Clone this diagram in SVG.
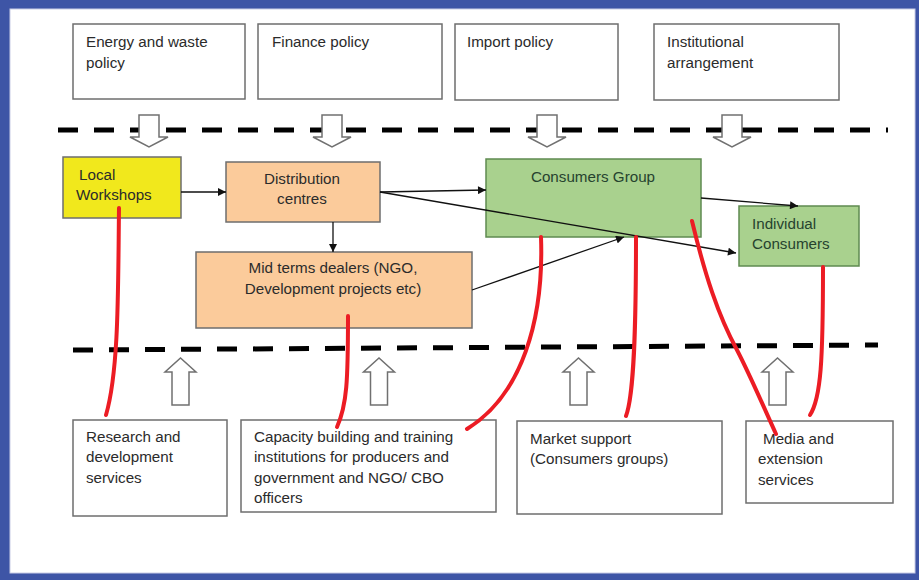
<svg xmlns="http://www.w3.org/2000/svg" width="919" height="580" viewBox="0 0 919 580">
<defs>
<style>
.box{fill:#fff;stroke:#6e6e6e;stroke-width:1.5}
.t{font-family:"Liberation Sans",Arial,sans-serif;font-size:15.2px;fill:#2b2b2b}
.tc{text-anchor:middle}
.g{fill:#26432e}
.dash{stroke:#000;stroke-width:5;stroke-dasharray:20 16;fill:none}
.hol{fill:#fff;stroke:#707070;stroke-width:1.5}
.con{stroke:#111;stroke-width:1.3;fill:none;marker-end:url(#ah)}
.red{stroke:#ec1c24;stroke-width:4;fill:none;stroke-linecap:round}
</style>
<marker id="ah" viewBox="0 0 10 10" refX="10" refY="5" markerWidth="10" markerHeight="8" markerUnits="userSpaceOnUse" orient="auto">
<path d="M0,0 L10,5 L0,10 Z" fill="#111"/>
</marker>
<path id="down" d="M-10,0 H10 V22 H19 L0,32 L-19,22 H-10 Z"/>
<path id="up" d="M-8.5,47 H8.5 V14 H15.5 L0,0 L-15.5,14 H-8.5 Z"/>
</defs>
<rect x="0" y="0" width="919" height="580" fill="#3e55a6"/>
<rect x="10" y="9" width="905" height="564" fill="#fff" stroke="#c9cde6" stroke-width="1"/>

<g id="policy-energy"><rect class="box" x="73" y="24" width="172" height="75"/><text class="t" x="86" y="47">Energy and waste</text><text class="t" x="86" y="68">policy</text></g>
<g id="policy-finance"><rect class="box" x="258" y="24" width="184" height="75"/><text class="t" x="272" y="47">Finance policy</text></g>
<g id="policy-import"><rect class="box" x="455" y="24" width="163" height="76"/><text class="t" x="467" y="47">Import policy</text></g>
<g id="policy-institutional"><rect class="box" x="654" y="24" width="185" height="76"/><text class="t" x="667" y="47">Institutional</text><text class="t" x="667" y="68">arrangement</text></g>

<g id="dividers">
<line class="dash" x1="58" y1="130" x2="888" y2="130"/>
<line class="dash" x1="73" y1="350" x2="878" y2="345"/>
</g>

<g id="policy-arrows">
<use href="#down" class="hol" x="149" y="115"/>
<use href="#down" class="hol" x="332" y="115"/>
<use href="#down" class="hol" x="547" y="115"/>
<use href="#down" class="hol" x="732" y="115"/>
</g>

<g id="local-workshops"><rect x="63" y="157" width="118" height="61" fill="#f1e81c" stroke="#6e6e6e" stroke-width="1.5"/><text class="t" x="79" y="180">Local</text><text class="t" x="76" y="200">Workshops</text></g>
<g id="distribution-centres"><rect x="226" y="162" width="154" height="60" fill="#fbcb9b" stroke="#6e6e6e" stroke-width="1.5"/><text class="t tc" x="302" y="184">Distribution</text><text class="t tc" x="302" y="204">centres</text></g>
<g id="mid-terms-dealers"><rect x="196" y="252" width="276" height="76" fill="#fbcb9b" stroke="#6e6e6e" stroke-width="1.5"/><text class="t tc" x="333" y="273">Mid terms dealers (NGO,</text><text class="t tc" x="333" y="294">Development projects etc)</text></g>
<g id="consumers-group"><rect x="486" y="159" width="215" height="78" fill="#a9d18e" stroke="#5f8a50" stroke-width="1.5"/><text class="t tc g" x="593" y="182">Consumers Group</text></g>
<g id="individual-consumers"><rect x="739" y="206" width="120" height="60" fill="#a9d18e" stroke="#5f8a50" stroke-width="1.5"/><text class="t g" x="752" y="229">Individual</text><text class="t g" x="752" y="249">Consumers</text></g>

<g id="connectors">
<line class="con" x1="181" y1="192" x2="226" y2="192"/>
<line class="con" x1="333" y1="222" x2="333" y2="252"/>
<line class="con" x1="380" y1="192" x2="486" y2="190"/>
<line class="con" x1="380" y1="192" x2="736" y2="253"/>
<line class="con" x1="472" y1="290" x2="624" y2="237"/>
<line class="con" x1="701" y1="198" x2="798" y2="206"/>
</g>

<g id="support-arrows">
<use href="#up" class="hol" x="180.5" y="358"/>
<use href="#up" class="hol" x="379" y="358"/>
<use href="#up" class="hol" x="578.5" y="358"/>
<use href="#up" class="hol" x="777.5" y="358"/>
</g>

<g id="research"><rect class="box" x="73" y="420" width="154" height="96"/><text class="t" x="86" y="442">Research and</text><text class="t" x="86" y="462">development</text><text class="t" x="86" y="483">services</text></g>
<g id="capacity"><rect class="box" x="241" y="420" width="255" height="92"/><text class="t" x="254" y="442">Capacity building and training</text><text class="t" x="254" y="462">institutions for producers and</text><text class="t" x="254" y="483">government and NGO/ CBO</text><text class="t" x="254" y="503">officers</text></g>
<g id="market"><rect class="box" x="517" y="421" width="205" height="93"/><text class="t" x="530" y="444">Market support</text><text class="t" x="530" y="464">(Consumers groups)</text></g>
<g id="media"><rect class="box" x="746" y="421" width="147" height="82"/><text class="t" x="763" y="444">Media and</text><text class="t" x="758" y="464">extension</text><text class="t" x="758" y="485">services</text></g>

<g id="red-links">
<path class="red" d="M119,208 C118,290 119,370 106,415"/>
<path class="red" d="M348,316 C348,380 347,405 337,427"/>
<path class="red" d="M541,237 C544,320 522,395 467,429"/>
<path class="red" d="M636,237 C636,330 634,395 626,416"/>
<path class="red" d="M692,221 C705,275 718,315 737,350 C750,375 765,410 776,434"/>
<path class="red" d="M823,267 C823,360 821,398 810,415"/>
</g>
</svg>
